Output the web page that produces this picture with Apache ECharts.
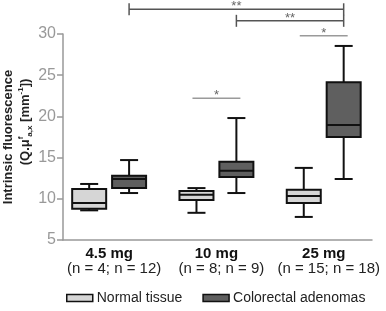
<!DOCTYPE html>
<html>
<head>
<meta charset="utf-8">
<script src="https://cdn.jsdelivr.net/npm/echarts@6/dist/echarts.min.js"></script>
<style>
  html, body { margin: 0; padding: 0; background: #fff; }
  #chart { width: 386px; height: 311px; }
</style>
</head>
<body>
<div id="chart"></div>
<script>
// groups on the x axis
const groups = ["4.5 mg", "10 mg", "25 mg"]
const groupN = ["(n = 4; n = 12)", "(n = 8; n = 9)", "(n = 15; n = 18)"]

// [min, q1, median, q3, max]
const normalStats = [
    [8.6, 8.8, 9.5, 11.2, 11.8],
    [8.3, 9.85, 10.5, 10.95, 11.3],
    [7.8, 9.5, 10.35, 11.1, 13.75]
]
const adenomaStats = [
    [10.7, 11.3, 12.4, 12.8, 14.7],
    [10.7, 12.65, 13.4, 14.5, 19.8],
    [12.4, 17.5, 18.95, 24.15, 28.55]
]

// significance brackets: from [group, side] to [group, side]
const sigFrom = [[0, 1], [1, 1], [2, 0], [1, 0]]
const sigTo = [[2, 1], [2, 1], [2, 1], [1, 1]]
const sigLevel = [33.0, 31.6, 29.8, 22.2]
const sigText = ["**", "**", "*", "*"]
const sigCaps = [true, true, false, false]

const FONT = "Liberation Sans, Arial, sans-serif"
const OFF = 0.186   // half distance between paired boxes (in group units)
const BOX_HALF = 17
const CAP_HALF = 9

function boxData(stats, side) {
    return stats.map((s, i) => [i + (side ? OFF : -OFF)].concat(s))
}

function renderBox(params, api) {
    let x = api.value(0)
    let px = api.coord([x, 5])[0]
    let y = k => api.coord([x, api.value(k)])[1]
    let yMin = y(1), yQ1 = y(2), yMed = y(3), yQ3 = y(4), yMax = y(5)
    let line = { stroke: "#111", lineWidth: 2 }
    return {
        type: "group",
        children: [
            { type: "line", shape: { x1: px, y1: yMax, x2: px, y2: yMin }, style: line },
            { type: "line", shape: { x1: px - CAP_HALF, y1: yMax, x2: px + CAP_HALF, y2: yMax }, style: line },
            { type: "line", shape: { x1: px - CAP_HALF, y1: yMin, x2: px + CAP_HALF, y2: yMin }, style: line },
            { type: "rect", shape: { x: px - BOX_HALF, y: yQ3, width: BOX_HALF * 2, height: yQ1 - yQ3 },
              style: { fill: api.visual("color"), stroke: "#111", lineWidth: 2 } },
            { type: "line", shape: { x1: px - BOX_HALF, y1: yMed, x2: px + BOX_HALF, y2: yMed }, style: line }
        ]
    }
}

let sigData = sigFrom.map((f, i) => {
    let t = sigTo[i]
    return [f[0] + (f[1] ? OFF : -OFF), t[0] + (t[1] ? OFF : -OFF), sigLevel[i], i]
})

function renderSig(params, api) {
    let i = api.value(3)
    let p1 = api.coord([api.value(0), api.value(2)])
    let p2 = api.coord([api.value(1), api.value(2)])
    let caps = sigCaps[i]
    let col = caps ? "#555" : "#9a9a9a"
    let ext = caps ? 0 : 4
    let children = [
        { type: "line", shape: { x1: p1[0] - ext, y1: p1[1], x2: p2[0] + ext, y2: p2[1] }, style: { stroke: col, lineWidth: 1.5 } },
        { type: "text", x: (p1[0] + p2[0]) / 2, y: p1[1] - 9,
          style: { text: sigText[i], fill: "#666", font: "13px " + FONT, align: "center", verticalAlign: "top" } }
    ]
    if (caps) {
        children.push({ type: "line", shape: { x1: p1[0], y1: p1[1] - 6, x2: p1[0], y2: p1[1] + 6 }, style: { stroke: col, lineWidth: 1.5 } })
        children.push({ type: "line", shape: { x1: p2[0], y1: p2[1] - 6, x2: p2[0], y2: p2[1] + 6 }, style: { stroke: col, lineWidth: 1.5 } })
    }
    return { type: "group", children: children }
}

let chart = echarts.init(document.getElementById("chart"))
chart.setOption({
    animation: false,
    grid: { left: 63, right: 14, top: 34, bottom: 71, outerBoundsMode: "none" },
    legend: {
        bottom: 1,
        left: 61,
        itemWidth: 26,
        itemHeight: 7,
        itemGap: 20,
        icon: "rect",
        textStyle: { fontFamily: FONT, fontSize: 14, color: "#222", padding: [0, 0, 0, -1] },
        data: [
            { name: "Normal tissue", itemStyle: { color: "#d6d6d6", borderColor: "#111", borderWidth: 1.5 } },
            { name: "Colorectal adenomas", itemStyle: { color: "#5f5f5f", borderColor: "#111", borderWidth: 1.5 } }
        ]
    },
    xAxis: {
        type: "value",
        min: -0.43,
        max: 2.45,
        splitLine: { show: false },
        axisLine: { show: true, onZero: false, lineStyle: { color: "#999", width: 1.5 } },
        axisTick: { show: false },
        axisLabel: {
            customValues: [0, 1, 2],
            margin: 6,
            formatter: v => "{b|" + groups[Math.round(v)] + "}\n{n|" + groupN[Math.round(v)] + "}",
            rich: {
                b: { fontFamily: FONT, fontSize: 15, fontWeight: "bold", color: "#111", lineHeight: 15 },
                n: { fontFamily: FONT, fontSize: 15, color: "#222", lineHeight: 15, padding: [0, 0, 0, 10] }
            }
        }
    },
    yAxis: {
        type: "value",
        min: 5,
        max: 30,
        interval: 5,
        splitLine: { show: false },
        axisLine: { show: true, onZero: false, lineStyle: { color: "#999", width: 1.5 } },
        axisTick: { show: true, length: 6, lineStyle: { color: "#999", width: 1.5 } },
        axisLabel: { fontFamily: FONT, fontSize: 16, color: "#999", margin: 7 },
        name: "{b|Intrinsic fluorescence}\n{b2|(Q.μ}{sup|f}{sub|a,x}{b| [mm}{sup|-1}{b|])}",
        nameLocation: "middle",
        nameGap: 29,
        nameMoveOverlap: false,
        nameRotate: 90,
        nameTextStyle: {
            rich: {
                b: { fontFamily: FONT, fontSize: 13, fontWeight: "bold", color: "#222", lineHeight: 17 },
                b2: { fontFamily: FONT, fontSize: 13, fontWeight: "bold", color: "#222", lineHeight: 17, padding: [0, 0, 0, 30] },
                sup: { fontFamily: FONT, fontSize: 8, fontWeight: "bold", color: "#222", lineHeight: 17, verticalAlign: "top" },
                sub: { fontFamily: FONT, fontSize: 8, fontWeight: "bold", color: "#222", lineHeight: 17, verticalAlign: "bottom" }
            }
        }
    },
    series: [
        {
            name: "Normal tissue",
            type: "custom",
            itemStyle: { color: "#d6d6d6" },
            renderItem: renderBox,
            encode: { x: 0, y: [1, 2, 3, 4, 5] },
            data: boxData(normalStats, 0)
        },
        {
            name: "Colorectal adenomas",
            type: "custom",
            itemStyle: { color: "#5f5f5f" },
            renderItem: renderBox,
            encode: { x: 0, y: [1, 2, 3, 4, 5] },
            data: boxData(adenomaStats, 1)
        },
        {
            type: "custom",
            clip: false,
            silent: true,
            renderItem: renderSig,
            encode: { x: [0, 1], y: 2 },
            data: sigData,
            z: 5
        }
    ]
})
</script>
</body>
</html>
